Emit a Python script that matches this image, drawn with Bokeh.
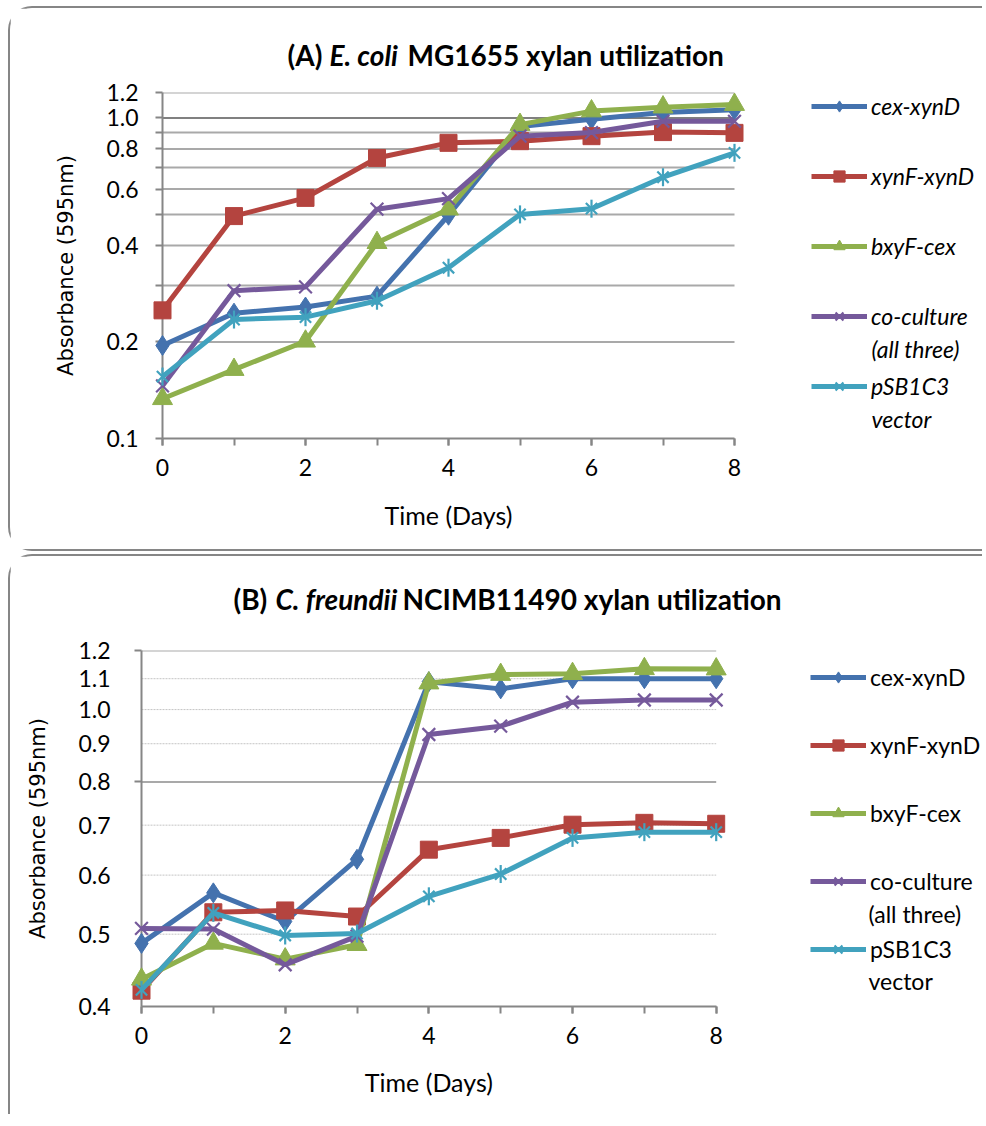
import numpy as np
from bokeh.plotting import figure
from bokeh.models import (Range1d, FixedTicker, PrintfTickFormatter, Legend, LegendItem)
from bokeh.core.properties import value
from bokeh.embed import file_html
from bokeh.resources import INLINE

# ---------------- data ----------------
days = [0, 1, 2, 3, 4, 5, 6, 7, 8]
labels = ["cex-xynD", "xynF-xynD", "bxyF-cex", "co-culture", "pSB1C3"]
label_second_lines = ["", "", "", "(all three)", "vector"]

a_cex = [0.195, 0.246, 0.257, 0.278, 0.497, 0.94, 0.99, 1.04, 1.06]
a_xynf = [0.251, 0.494, 0.563, 0.75, 0.836, 0.846, 0.877, 0.903, 0.898]
a_bxyf = [0.133, 0.164, 0.201, 0.408, 0.519, 0.953, 1.05, 1.08, 1.10]
a_cocult = [0.146, 0.289, 0.297, 0.519, 0.56, 0.877, 0.90, 0.976, 0.976]
a_psb = [0.156, 0.235, 0.239, 0.269, 0.341, 0.50, 0.521, 0.653, 0.778]

b_cex = [0.486, 0.568, 0.520, 0.630, 1.09, 1.066, 1.10, 1.10, 1.10]
b_xynf = [0.420, 0.535, 0.538, 0.528, 0.649, 0.673, 0.701, 0.705, 0.703]
b_bxyf = [0.435, 0.486, 0.463, 0.484, 1.085, 1.114, 1.117, 1.134, 1.133]
b_cocult = [0.509, 0.508, 0.455, 0.497, 0.926, 0.950, 1.023, 1.03, 1.03]
b_psb = [0.421, 0.534, 0.498, 0.501, 0.562, 0.602, 0.673, 0.685, 0.685]

a_major = [0.1, 0.2, 0.4, 0.6, 0.8, 1.0, 1.2]
a_minor = [0.3, 0.5, 0.7, 0.9]
a_grid = [0.2, 0.3, 0.4, 0.5, 0.6, 0.7, 0.8, 0.9, 1.2]
a_grid_dark = [1.0]
b_ticks = [0.4, 0.5, 0.6, 0.7, 0.8, 0.9, 1.0, 1.1, 1.2]
b_solid = [0.8, 1.2]
b_dotted = [0.5, 0.6, 0.7, 0.9, 1.0, 1.1]
x_major = [0, 2, 4, 6, 8]

colors = ["#4472AE", "#B4443F", "#8FB04D", "#75599B", "#41A2BE"]
kinds = ["diamond", "square", "triangle", "x", "star"]

FONT = "Lato"
AXIS_COLOR = "#868686"


def add_series(p, y, color, kind):
    rs = [p.line(days, y, line_color=color, line_width=5, level="overlay")]
    if kind == "diamond":
        rs.append(p.scatter(days, y, marker="diamond", size=20,
                            fill_color=color, line_color=color, level="overlay"))
    elif kind == "square":
        rs.append(p.scatter(days, y, marker="square", size=17,
                            fill_color=color, line_color=color, level="overlay"))
    elif kind == "triangle":
        rs.append(p.scatter(days, y, marker="triangle", size=20,
                            fill_color=color, line_color=color, level="overlay"))
    elif kind == "x":
        rs.append(p.scatter(days, y, marker="x", size=18, line_width=2.2,
                            line_color=color, level="overlay"))
    else:
        rs.append(p.scatter(days, y, marker="x", size=16, line_width=2.2,
                            line_color=color, level="overlay"))
        rs.append(p.scatter(days, y, marker="dash", angle=np.pi / 2, size=18,
                            line_width=2.2, line_color=color, level="overlay"))
    return rs


def add_text(p, anchor, txt, dx, dy, style, size, align="left"):
    # text placed relative to an anchor point, offset in pixels
    p.text(x=[anchor[0]], y=[anchor[1]], text=[txt], x_offset=dx, y_offset=dy,
           text_font=value(FONT), text_font_size=size, text_font_style=style,
           text_baseline="middle", text_align=align, text_color="black",
           level="overlay")


def add_hlines(p, ticks, color, width, dash):
    n = len(ticks)
    p.segment(x0=[days[0]] * n, x1=[days[-1]] * n, y0=ticks, y1=ticks,
              line_color=color, line_width=width, line_dash=dash)


def make_panel(h, frame, yr, ylog_ticks, minor, grids, series, title_parts,
               xlabel_y, legend_pos, italic, ytick_out_minor_only=False):
    # frame: (left, top, right-of-x=8, bottom) in page pixels; ox, oy: canvas origin
    fl, ft, fr, fb, ox, oy = frame
    W = 974
    frame_right_page = ox + W
    x_end = days[-1] * (frame_right_page - fl) / (fr - fl)
    p = figure(width=W, height=h, y_axis_type="log", x_range=Range1d(days[0], x_end),
               y_range=Range1d(*yr), output_backend="svg", toolbar_location=None,
               min_border_left=int(round(fl - ox)), min_border_right=0,
               min_border_top=int(round(ft - oy)),
               min_border_bottom=int(round(h - (fb - oy))))
    p.outline_line_color = None
    p.xgrid.visible = False
    p.ygrid.visible = False

    xa = p.xaxis[0]
    xa.ticker = FixedTicker(ticks=x_major, minor_ticks=days)
    xa.bounds = (days[0], days[-1])
    ya = p.yaxis[0]
    ya.ticker = FixedTicker(ticks=ylog_ticks, minor_ticks=minor)
    ya.formatter = PrintfTickFormatter(format="%.1f")
    for ax in (xa, ya):
        ax.axis_line_color = AXIS_COLOR
        ax.axis_line_width = 2
        ax.major_tick_line_color = AXIS_COLOR
        ax.minor_tick_line_color = AXIS_COLOR
        ax.major_tick_line_width = 2
        ax.minor_tick_line_width = 2
        ax.major_tick_in = 0
        ax.minor_tick_in = 0
        ax.major_tick_out = 7
        ax.minor_tick_out = 7
        ax.major_label_text_font = FONT
        ax.major_label_text_font_size = "23px"
        ax.major_label_text_color = "black"
        ax.axis_label_text_font_style = "normal"
        ax.axis_label_text_color = "black"
    if ytick_out_minor_only:
        ya.major_tick_out = 0
        ya.major_label_standoff = 24
    else:
        ya.major_label_standoff = 17
    xa.major_label_standoff = 13
    ya.axis_label = "Absorbance (595nm)"
    ya.axis_label_text_font = "DejaVu Sans"
    ya.axis_label_text_font_size = "21px"
    ya.axis_label_standoff = 25

    for ticks, col, wd, dash in grids:
        add_hlines(p, ticks, col, wd, dash)

    rends = [add_series(p, y, c, k) for y, c, k in zip(series, colors, kinds)]

    # x-axis title centred under the axis (x = 0..8)
    add_text(p, ((days[0] + days[-1]) / 2, yr[0]), "Time (Days)", 0, xlabel_y - fb,
             "normal", "25px", align="center")

    anchor = (days[0], yr[1])
    for txt, x, y, style, size in title_parts:
        add_text(p, anchor, txt, x - fl, y - ft, style, size)

    lx, ltx, yc_top, step, y2s = legend_pos
    lh = 28
    n = len(labels)
    yc_bottom = yc_top + step * (n - 1)
    leg = Legend(items=[LegendItem(label=lab, renderers=rs)
                        for lab, rs in zip(labels, rends)],
                 location=(lx - fl, fb - yc_bottom - lh / 2),
                 padding=0, margin=0, spacing=int(round(step - lh)),
                 border_line_color=None, background_fill_alpha=0,
                 glyph_width=56, glyph_height=lh, label_height=lh, label_standoff=4,
                 label_text_font=FONT, label_text_font_size="23px",
                 label_text_font_style="italic" if italic else "normal",
                 label_text_color="black")
    p.add_layout(leg, "center")
    for i, t in enumerate(label_second_lines):
        if t:
            add_text(p, anchor, t, ltx - fl, y2s[i] - ft,
                     "italic" if italic else "normal", "23px")
    return p


# Panel A: canvas origin at page (10, 8)
pA = make_panel(
    545, (162, 91.7, 734, 437.7, 10, 8), (0.1, 1.2), a_major, a_minor,
    grids=[(a_grid, "#A9A9A9", 2, "solid"), (a_grid_dark, "#808080", 2, "solid")],
    series=[a_cex, a_xynf, a_bxyf, a_cocult, a_psb],
    title_parts=[("(A)", 287, 54, "bold", "28px"),
                 ("E. coli", 329, 54, "bold italic", "28px"),
                 ("MG1655 xylan utilization", 407, 54, "bold", "28px")],
    xlabel_y=514,
    legend_pos=(811, 871, 108, 69.5, [0, 0, 0, 348, 418]),
    italic=True)
pA.styles = {"margin-left": "8px", "margin-top": "6px",
             "border-top": "2px solid #868686", "border-left": "2px solid #868686",
             "border-bottom": "2px solid #868686", "border-top-left-radius": "24px",
             "border-bottom-left-radius": "24px"}

# Panel B: canvas origin at page (10, 560)
pB = make_panel(
    560, (141, 654.3, 715.7, 1010, 10, 560), (0.4, 1.2), b_ticks, b_solid,
    grids=[(b_solid, "#A9A9A9", 2, "solid"), (b_dotted, "#C4C4C4", 1, "2 1")],
    series=[b_cex, b_xynf, b_bxyf, b_cocult, b_psb],
    title_parts=[("(B)", 233, 603, "bold", "28px"),
                 ("C. freundii", 275, 603, "bold italic", "28px"),
                 ("NCIMB11490 xylan utilization", 402, 603, "bold", "28px")],
    xlabel_y=1085,
    legend_pos=(810, 868, 679, 68.5, [0, 0, 0, 918, 985]),
    italic=False, ytick_out_minor_only=True)
pB.styles = {"margin-left": "8px", "margin-top": "3px",
             "border-top": "2px solid #868686", "border-left": "2px solid #868686",
             "border-top-left-radius": "24px"}

open("out.html", "w").write(file_html([pA, pB], INLINE))
